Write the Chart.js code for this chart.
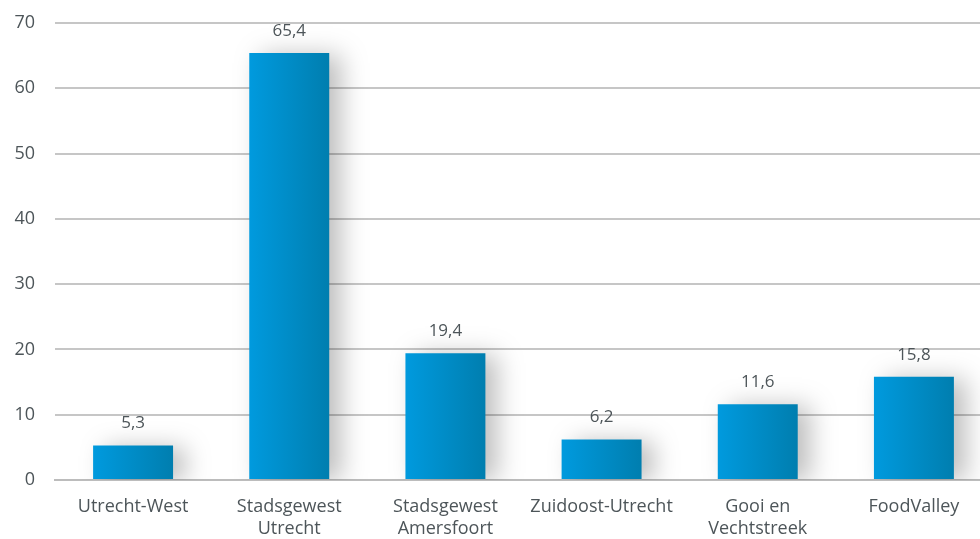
<!DOCTYPE html>
<html>
<head>
<meta charset="utf-8">
<script src="https://cdn.jsdelivr.net/npm/chart.js@4"></script>
<style>
  html, body { margin: 0; padding: 0; background: #fff; overflow: hidden; }
  #wrap { width: 992px; height: 539px; }
</style>
</head>
<body>
<div id="wrap"><canvas id="ch"></canvas></div>
<script>
// regio's en waarden
const regions = [['Utrecht-West'], ['Stadsgewest', 'Utrecht'], ['Stadsgewest', 'Amersfoort'], ['Zuidoost-Utrecht'], ['Gooi en', 'Vechtstreek'], ['FoodValley']];
const values  = [5.3, 65.4, 19.4, 6.2, 11.6, 15.8];
const yTicks  = [0, 10, 20, 30, 40, 50, 60, 70];

const TXT = '#4d5559';
const BAR_PCT = 0.512;

// zachte schaduw rechts van de balken
const shadowPlugin = {
    id: 'barShadow',
    beforeDatasetsDraw(chart) {
        const c = chart.ctx;
        c.save();
        c.shadowColor = 'rgba(0,0,0,0.26)';
        c.shadowBlur = 24;
        c.shadowOffsetX = 12;
        c.shadowOffsetY = 2;
    },
    afterDatasetsDraw(chart) { chart.ctx.restore(); },
};

// waarden boven de balken, met komma
const labelPlugin = {
    id: 'valLabels',
    afterDatasetsDraw(chart) {
        const c = chart.ctx;
        const meta = chart.getDatasetMeta(0);
        c.save();
        c.font = '17px "Open Sans"';
        c.fillStyle = TXT;
        c.textAlign = 'center';
        c.textBaseline = 'middle';
        meta.data.forEach((el, i) => {
            c.fillText(values[i].toFixed(1).replace('.', ','), el.x, el.y - 22);
        });
        c.restore();
    },
};

function barGradient(ctx) {
    const chart = ctx.chart;
    const xs = chart.scales.x;
    if (!xs || !chart.chartArea) return '#0090cc';
    const cx = xs.getPixelForValue(ctx.dataIndex);
    const w = (xs.width / regions.length) * BAR_PCT;
    const g = chart.ctx.createLinearGradient(cx - w / 2, 0, cx + w / 2, 0);
    g.addColorStop(0, '#009ade');
    g.addColorStop(1, '#007eaf');
    return g;
}

new Chart(document.getElementById('ch'), {
    type: 'bar',
    data: {
        labels: regions,
        datasets: [{
            data: values,
            backgroundColor: barGradient,
            borderWidth: 0,
            categoryPercentage: 1,
            barPercentage: BAR_PCT,
        }],
    },
    options: {
        responsive: true, maintainAspectRatio: false, animation: false,
        layout: { padding: { top: 23, right: 0, bottom: 0, left: 0 } },
        plugins: { legend: { display: false }, tooltip: { enabled: false } },
        scales: {
            x: {
                afterFit: s => { s.height = 59; },
                grid: { display: false, drawTicks: false },
                border: { color: '#bcbcbc', width: 2 },
                ticks: { color: TXT, font: { family: 'Open Sans', size: 18, lineHeight: 1.22 }, padding: 16, maxRotation: 0 },
            },
            y: {
                min: 0, max: 70,
                afterBuildTicks: s => { s.ticks = yTicks.map(v => ({ value: v })); },
                afterFit: s => { s.width = 55; s.paddingTop = 0; s.paddingBottom = 0; },
                grid: { color: '#c6c6c6', lineWidth: 2, drawTicks: false },
                border: { display: false },
                ticks: { color: TXT, font: { family: 'Open Sans', size: 18 }, padding: 20 },
            },
        },
    },
    plugins: [shadowPlugin, labelPlugin],
});
</script>
</body>
</html>
